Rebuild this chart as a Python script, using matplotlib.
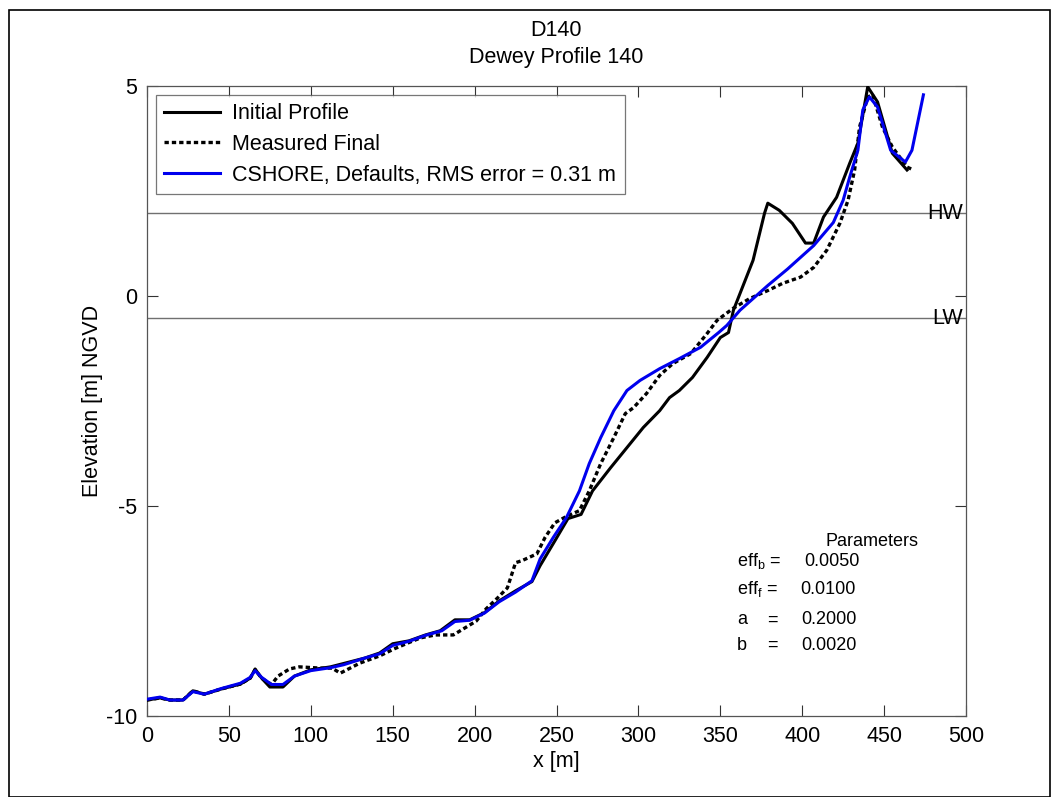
import matplotlib
matplotlib.use("Agg")
import matplotlib.pyplot as plt
from matplotlib.patches import Rectangle

plt.rcParams['font.family'] = ['Liberation Sans', 'DejaVu Sans']
plt.rcParams['axes.unicode_minus'] = False

# ---- data ----
init_x = [0, 8, 14, 22, 28, 35, 45, 57, 63, 66, 70, 75, 83, 90, 100, 112, 121, 133, 142,
          150, 160, 170, 179, 188, 197, 206, 215, 225, 235, 240, 249, 257, 265, 272, 283,
          293, 303, 313, 319, 325, 333, 342, 350, 355, 358, 370, 377, 379, 386, 394, 402,
          407, 413, 421, 429, 434, 440, 446, 455, 464]
init_y = [-9.62, -9.57, -9.62, -9.62, -9.40, -9.48, -9.36, -9.24, -9.10, -8.88, -9.10,
          -9.31, -9.31, -9.05, -8.90, -8.83, -8.74, -8.62, -8.50, -8.28, -8.21, -8.07,
          -7.97, -7.71, -7.71, -7.54, -7.26, -7.02, -6.80, -6.42, -5.83, -5.30, -5.20,
          -4.64, -4.09, -3.61, -3.13, -2.73, -2.42, -2.25, -1.94, -1.46, -0.99, -0.87,
          -0.34, 0.85, 1.97, 2.21, 2.04, 1.73, 1.26, 1.26, 1.88, 2.35, 3.16, 3.64, 4.98,
          4.62, 3.40, 3.00]

meas_x = [0, 8, 14, 22, 28, 35, 45, 57, 63, 66, 70, 76, 80, 87, 93, 106, 113, 118, 130,
          142, 151, 160, 167, 176, 187, 201, 207, 214, 220, 225, 229, 238, 243, 249, 256,
          264, 270, 277, 285, 292, 297, 305, 313, 321, 332, 342, 348, 358, 368, 379, 388,
          399, 407, 415, 423, 428, 432, 435, 440, 443, 449, 455, 464, 468]
meas_y = [-9.62, -9.57, -9.62, -9.62, -9.40, -9.48, -9.36, -9.24, -9.10, -8.90, -9.10,
          -9.25, -9.05, -8.88, -8.83, -8.86, -8.86, -8.98, -8.74, -8.57, -8.40, -8.25,
          -8.14, -8.07, -8.07, -7.74, -7.45, -7.19, -6.95, -6.35, -6.30, -6.14, -5.75,
          -5.40, -5.25, -5.11, -4.64, -3.99, -3.37, -2.80, -2.66, -2.32, -1.89, -1.61,
          -1.37, -0.89, -0.58, -0.29, -0.06, 0.13, 0.30, 0.45, 0.68, 1.09, 1.73, 2.28,
          3.00, 4.02, 4.74, 4.79, 4.02, 3.55, 3.07, 3.00]

cs_x = [0, 8, 14, 22, 28, 35, 45, 57, 63, 66, 70, 76, 83, 90, 100, 112, 120, 133, 142,
        150, 160, 170, 180, 188, 197, 206, 215, 225, 235, 240, 248, 256, 264, 270, 277,
        285, 293, 301, 313, 325, 338, 349, 354, 362, 379, 391, 407, 419, 425, 429, 434,
        437, 441, 446, 454, 463, 467, 474]
cs_y = [-9.60, -9.55, -9.62, -9.62, -9.42, -9.48, -9.35, -9.22, -9.08, -8.92, -9.08,
        -9.25, -9.25, -9.05, -8.92, -8.85, -8.78, -8.62, -8.52, -8.32, -8.22, -8.08,
        -7.97, -7.75, -7.72, -7.55, -7.28, -7.05, -6.78, -6.26, -5.75, -5.28, -4.64,
        -3.99, -3.37, -2.73, -2.25, -2.01, -1.73, -1.49, -1.22, -0.87, -0.70, -0.34,
        0.25, 0.64, 1.20, 1.75, 2.28, 2.83, 3.47, 4.43, 4.74, 4.50, 3.47, 3.19, 3.47,
        4.79]

hw_level = 1.97
lw_level = -0.53
x_ticks = [0, 50, 100, 150, 200, 250, 300, 350, 400, 450, 500]
y_ticks = [-10, -5, 0, 5]
legend_labels = ['Initial Profile', 'Measured Final', 'CSHORE, Defaults, RMS error = 0.31 m']

FS = 15.5

fig = plt.figure(figsize=(10.52, 7.97), dpi=100)
ax = fig.add_axes([147/1052, 1-716/797, (966-147)/1052, (716-86)/797])

ax.axhline(hw_level, color='#707070', lw=1.0, zorder=1)
ax.axhline(lw_level, color='#707070', lw=1.0, zorder=1)

ax.plot(init_x, init_y, color='black', lw=2.2, label=legend_labels[0], zorder=3)
ax.plot(meas_x, meas_y, color='black', lw=2.4, linestyle=(0, (1.3, 0.9)),
        label=legend_labels[1], zorder=4)
ax.plot(cs_x, cs_y, color='#0000ee', lw=2.2, label=legend_labels[2], zorder=5)

ax.set_xlim(0, 500)
ax.set_ylim(-10, 5)
ax.set_xticks(x_ticks)
ax.set_yticks(y_ticks)
ax.tick_params(direction='in', top=True, right=True, length=8, width=0.8,
               labelsize=FS, colors='#333333', labelcolor='black', pad=7)
for s in ax.spines.values():
    s.set_color('#555555')
    s.set_linewidth(0.9)

ax.set_xlabel('x [m]', fontsize=FS, labelpad=3)
ax.set_ylabel('Elevation [m] NGVD', fontsize=FS, labelpad=2)
fig.text(556/1052, 1-31/797, 'D140', ha='center', va='center', fontsize=FS)
fig.text(556/1052, 1-58/797, 'Dewey Profile 140', ha='center', va='center', fontsize=FS)

leg = ax.legend(loc='upper left', fontsize=FS, frameon=True, fancybox=False,
                edgecolor='#555555', borderaxespad=0.4, handlelength=2.6,
                handletextpad=0.55, labelspacing=0.45, borderpad=0.4)
leg.get_frame().set_linewidth(0.9)

ax.text(0.996, hw_level, 'HW', transform=ax.get_yaxis_transform(), ha='right',
        va='center', fontsize=FS)
ax.text(0.996, lw_level, 'LW', transform=ax.get_yaxis_transform(), ha='right',
        va='center', fontsize=FS)

PFS = 13

def ftxt(px, py, s, **kw):
    fig.text(px/1052, 1-py/797, s, fontsize=PFS, va='center', **kw)

ftxt(872, 541, 'Parameters', ha='center')
ftxt(737, 561, r'eff$_\mathregular{b}$ =', ha='left')
ftxt(804, 561, '0.0050', ha='left')
ftxt(737, 589, r'eff$_\mathregular{f}$ =', ha='left')
ftxt(800, 589, '0.0100', ha='left')
ftxt(737, 620, 'a', ha='left')
ftxt(772, 620, '=', ha='center')
ftxt(801, 620, '0.2000', ha='left')
ftxt(737, 645, 'b', ha='left')
ftxt(772, 645, '=', ha='center')
ftxt(801, 645, '0.0020', ha='left')

fig.patches.append(Rectangle((9/1052, 0), 1 - 9/1052 - 2/1052, 1 - 10/797,
                             transform=fig.transFigure, fill=False,
                             edgecolor='black', lw=1.2))

fig.savefig('out.png', dpi=100)
